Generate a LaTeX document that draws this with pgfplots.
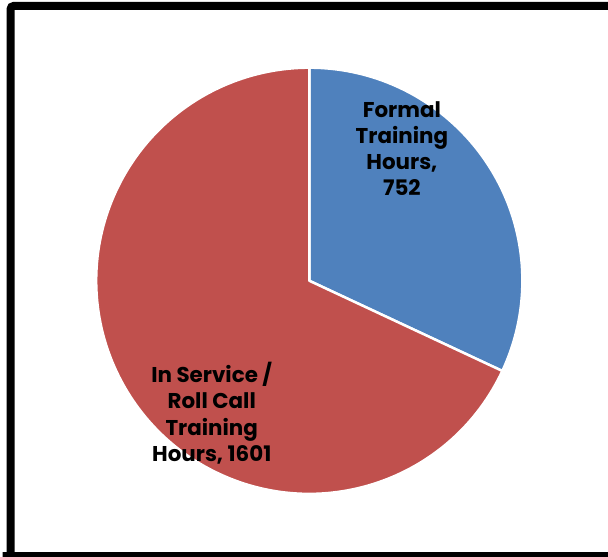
\documentclass[border=0pt]{standalone}
\usepackage{pgfplots}
\usepackage{pgfplotstable}
\usepackage{fontspec}
\pgfplotsset{compat=1.18}
\setmainfont{Poppins}
\definecolor{pieblue}{HTML}{4F81BD}
\definecolor{piered}{HTML}{C0504D}

\pgfplotstableread{
label value
formal 752
inservice 1601
}\piedata

\begin{document}
\pgfplotstablegetelem{0}{value}\of\piedata \let\vformal\pgfplotsretval
\pgfplotstablegetelem{1}{value}\of\piedata \let\vservice\pgfplotsretval
\pgfmathsetmacro{\angformal}{360*(\vformal/(\vformal+\vservice))}
\begin{tikzpicture}
    \begin{axis}[
        hide axis,
        scale only axis,
        x = 1pt, y = 1pt,
        xmin = -308, xmax = 300,
        ymin = -277, ymax = 282,
        clip = false
    ]
    \coordinate (bl) at (axis cs:-308,-277);
    \coordinate (tr) at (axis cs:300,282);
    % slices, clockwise from 12 o'clock
    \filldraw[fill = pieblue, draw = white, line width = 2.5pt, line join = round]
        (axis cs:0,0) -- (axis cs:0,214)
        arc[start angle = 90, end angle = 90 - \angformal, radius = 214pt] -- cycle;
    \filldraw[fill = piered, draw = white, line width = 2.5pt, line join = round]
        (axis cs:0,0) -- ({214*cos(90 - \angformal)}, {214*sin(90 - \angformal)})
        arc[start angle = 90 - \angformal, end angle = -270, radius = 214pt] -- cycle;
    % labels
    \node[align = center, font = \bfseries\fontsize{21.5}{26.2}\selectfont]
        at (axis cs:93,133) {Formal\\Training\\Hours,\\752};
    \node[align = center, font = \bfseries\fontsize{21.5}{26.2}\selectfont]
        at (axis cs:-98,-133) {In Service /\\Roll Call\\Training\\Hours, 1601};
    % frame
    \begin{scope}
        \clip (axis cs:-308,-277) rectangle (axis cs:300,282);
        \draw[line width = 8pt, rounded corners = 3pt]
            (axis cs:-300,-300) -- (axis cs:-300,276) -- (axis cs:320,276);
        \draw[line width = 8pt] (axis cs:-320,-276.5) -- (axis cs:320,-276.5);
    \end{scope}
    \end{axis}
    \pgfresetboundingbox
    \useasboundingbox (bl) rectangle (tr);
\end{tikzpicture}
\end{document}
